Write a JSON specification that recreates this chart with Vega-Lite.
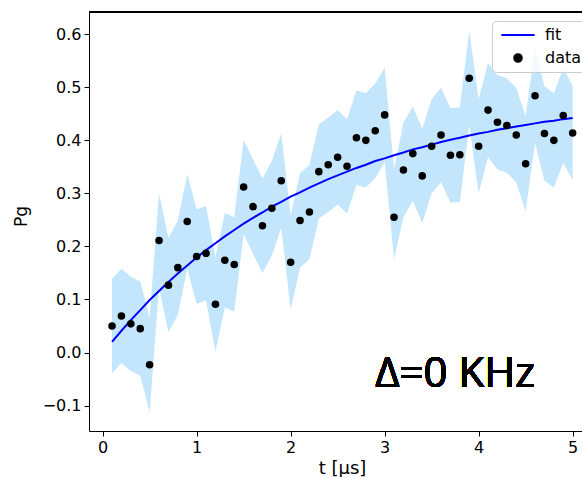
{
  "$schema": "https://vega.github.io/schema/vega-lite/v6.json",
  "width": 493,
  "height": 419,
  "autosize": {"type": "none"},
  "padding": {"left": 89, "top": 12, "right": 0, "bottom": 46},
  "background": "white",
  "config": {
    "view": {"stroke": null},
    "font": "DejaVu Sans",
    "axis": {
      "domainColor": "#000000",
      "domainWidth": 1,
      "tickColor": "#000000",
      "tickSize": 5,
      "tickWidth": 1,
      "labelColor": "#000000",
      "labelFont": "DejaVu Sans",
      "labelFontSize": 16,
      "labelPadding": 3,
      "titleFont": "DejaVu Sans",
      "titleFontSize": 18,
      "titleFontWeight": "normal",
      "titleColor": "#000000",
      "grid": false
    },
    "legend": {
      "orient": "none",
      "legendX": 403,
      "legendY": 9,
      "title": null,
      "labelFont": "DejaVu Sans",
      "labelFontSize": 16,
      "labelColor": "#000000",
      "symbolSize": 57,
      "symbolOpacity": 1,
      "padding": 6,
      "rowPadding": 7,
      "symbolOffset": 12,
      "labelOffset": 19,
      "strokeColor": "#cccccc",
      "fillColor": "rgba(255,255,255,0.8)",
      "cornerRadius": 4
    }
  },
  "data": {
    "values": [
      {"t": 0.1, "p": 0.050, "lo": -0.039, "hi": 0.139, "fit": 0.020},
      {"t": 0.2, "p": 0.069, "lo": -0.020, "hi": 0.158, "fit": 0.041},
      {"t": 0.3, "p": 0.054, "lo": -0.035, "hi": 0.143, "fit": 0.061},
      {"t": 0.4, "p": 0.045, "lo": -0.044, "hi": 0.134, "fit": 0.080},
      {"t": 0.5, "p": -0.023, "lo": -0.112, "hi": 0.066, "fit": 0.099},
      {"t": 0.6, "p": 0.211, "lo": 0.122, "hi": 0.300, "fit": 0.116},
      {"t": 0.7, "p": 0.127, "lo": 0.038, "hi": 0.216, "fit": 0.133},
      {"t": 0.8, "p": 0.160, "lo": 0.071, "hi": 0.249, "fit": 0.149},
      {"t": 0.9, "p": 0.247, "lo": 0.158, "hi": 0.336, "fit": 0.164},
      {"t": 1.0, "p": 0.181, "lo": 0.092, "hi": 0.270, "fit": 0.179},
      {"t": 1.1, "p": 0.187, "lo": 0.098, "hi": 0.276, "fit": 0.193},
      {"t": 1.2, "p": 0.091, "lo": 0.002, "hi": 0.180, "fit": 0.206},
      {"t": 1.3, "p": 0.174, "lo": 0.085, "hi": 0.263, "fit": 0.219},
      {"t": 1.4, "p": 0.166, "lo": 0.077, "hi": 0.255, "fit": 0.231},
      {"t": 1.5, "p": 0.312, "lo": 0.223, "hi": 0.401, "fit": 0.243},
      {"t": 1.6, "p": 0.275, "lo": 0.186, "hi": 0.364, "fit": 0.254},
      {"t": 1.7, "p": 0.239, "lo": 0.150, "hi": 0.328, "fit": 0.264},
      {"t": 1.8, "p": 0.272, "lo": 0.183, "hi": 0.361, "fit": 0.275},
      {"t": 1.9, "p": 0.324, "lo": 0.235, "hi": 0.413, "fit": 0.284},
      {"t": 2.0, "p": 0.170, "lo": 0.081, "hi": 0.259, "fit": 0.294},
      {"t": 2.1, "p": 0.249, "lo": 0.160, "hi": 0.338, "fit": 0.302},
      {"t": 2.2, "p": 0.265, "lo": 0.176, "hi": 0.354, "fit": 0.311},
      {"t": 2.3, "p": 0.341, "lo": 0.252, "hi": 0.430, "fit": 0.319},
      {"t": 2.4, "p": 0.354, "lo": 0.265, "hi": 0.443, "fit": 0.327},
      {"t": 2.5, "p": 0.368, "lo": 0.279, "hi": 0.457, "fit": 0.334},
      {"t": 2.6, "p": 0.351, "lo": 0.262, "hi": 0.440, "fit": 0.341},
      {"t": 2.7, "p": 0.405, "lo": 0.316, "hi": 0.494, "fit": 0.348},
      {"t": 2.8, "p": 0.400, "lo": 0.311, "hi": 0.489, "fit": 0.354},
      {"t": 2.9, "p": 0.418, "lo": 0.329, "hi": 0.507, "fit": 0.361},
      {"t": 3.0, "p": 0.448, "lo": 0.359, "hi": 0.537, "fit": 0.366},
      {"t": 3.1, "p": 0.255, "lo": 0.176, "hi": 0.346, "fit": 0.372},
      {"t": 3.2, "p": 0.344, "lo": 0.255, "hi": 0.433, "fit": 0.377},
      {"t": 3.3, "p": 0.375, "lo": 0.286, "hi": 0.464, "fit": 0.383},
      {"t": 3.4, "p": 0.333, "lo": 0.244, "hi": 0.422, "fit": 0.387},
      {"t": 3.5, "p": 0.389, "lo": 0.300, "hi": 0.478, "fit": 0.392},
      {"t": 3.6, "p": 0.410, "lo": 0.321, "hi": 0.499, "fit": 0.397},
      {"t": 3.7, "p": 0.372, "lo": 0.283, "hi": 0.461, "fit": 0.401},
      {"t": 3.8, "p": 0.373, "lo": 0.284, "hi": 0.462, "fit": 0.405},
      {"t": 3.9, "p": 0.517, "lo": 0.428, "hi": 0.606, "fit": 0.409},
      {"t": 4.0, "p": 0.389, "lo": 0.300, "hi": 0.478, "fit": 0.413},
      {"t": 4.1, "p": 0.457, "lo": 0.368, "hi": 0.546, "fit": 0.416},
      {"t": 4.2, "p": 0.434, "lo": 0.345, "hi": 0.523, "fit": 0.420},
      {"t": 4.3, "p": 0.428, "lo": 0.339, "hi": 0.517, "fit": 0.423},
      {"t": 4.4, "p": 0.410, "lo": 0.321, "hi": 0.499, "fit": 0.426},
      {"t": 4.5, "p": 0.356, "lo": 0.267, "hi": 0.445, "fit": 0.429},
      {"t": 4.6, "p": 0.484, "lo": 0.395, "hi": 0.573, "fit": 0.432},
      {"t": 4.7, "p": 0.413, "lo": 0.324, "hi": 0.502, "fit": 0.435},
      {"t": 4.8, "p": 0.400, "lo": 0.311, "hi": 0.489, "fit": 0.437},
      {"t": 4.9, "p": 0.447, "lo": 0.358, "hi": 0.536, "fit": 0.440},
      {"t": 5.0, "p": 0.414, "lo": 0.325, "hi": 0.503, "fit": 0.442}
    ]
  },
  "layer": [
    {
      "mark": {"type": "area", "color": "#87cefa", "opacity": 0.5},
      "encoding": {
        "x": {
          "field": "t", "type": "quantitative",
          "scale": {"domain": [-0.145, 5.0995], "nice": false, "zero": false},
          "axis": {"values": [0, 1, 2, 3, 4, 5], "format": "d", "title": "t [μs]", "titleX": 253, "titleY": 42, "titleBaseline": "alphabetic", "titleAlign": "center"}
        },
        "y": {
          "field": "lo", "type": "quantitative",
          "scale": {"domain": [-0.148, 0.642], "nice": false, "zero": false},
          "axis": {"values": [-0.1, 0, 0.1, 0.2, 0.3, 0.4, 0.5, 0.6], "format": ".1f", "title": "Pg", "titleFontSize": 17, "titleX": -63, "titleY": 204, "titleBaseline": "alphabetic", "titleAlign": "center", "titleAngle": -90}
        },
        "y2": {"field": "hi"}
      }
    },
    {
      "mark": {"type": "line", "strokeWidth": 2},
      "encoding": {
        "x": {"field": "t", "type": "quantitative"},
        "y": {"field": "fit", "type": "quantitative", "title": "Pg"},
        "color": {
          "datum": "fit", "type": "nominal",
          "scale": {"domain": ["fit", "data"], "range": ["#0000ff", "#000000"]},
          "legend": {"encode": {"symbols": {"update": {"stroke": {"signal": "datum.value === 'fit' ? '#0000ff' : 'transparent'"}, "strokeWidth": {"value": 2}}}}}
        }
      }
    },
    {
      "mark": {"type": "point", "filled": true, "size": 57, "opacity": 1},
      "encoding": {
        "x": {"field": "t", "type": "quantitative"},
        "y": {"field": "p", "type": "quantitative", "title": "Pg"},
        "color": {
          "datum": "data", "type": "nominal",
          "scale": {"domain": ["fit", "data"], "range": ["#0000ff", "#000000"]},
          "legend": {"encode": {"symbols": {"update": {"stroke": {"signal": "datum.value === 'fit' ? '#0000ff' : 'transparent'"}, "strokeWidth": {"value": 2}}}}}
        },
        "shape": {
          "datum": "data", "type": "nominal",
          "scale": {"domain": ["fit", "data"], "range": ["M-4.4,0H4.4", "circle"]},
          "legend": {"encode": {"symbols": {"update": {"stroke": {"signal": "datum.value === 'fit' ? '#0000ff' : 'transparent'"}, "strokeWidth": {"value": 2}}}}}
        }
      }
    },
    {
      "mark": {"type": "rule", "color": "#000000", "strokeWidth": 1},
      "encoding": {"y": {"datum": 0.642, "type": "quantitative"}}
    },
    {
      "mark": {"type": "text", "text": "Δ=0 KHz", "font": "Open Sans", "fontSize": 42, "align": "left", "baseline": "alphabetic", "color": "#000000"},
      "encoding": {
        "x": {"datum": 2.9, "type": "quantitative"},
        "y": {"datum": -0.065, "type": "quantitative"}
      }
    }
  ]
}
